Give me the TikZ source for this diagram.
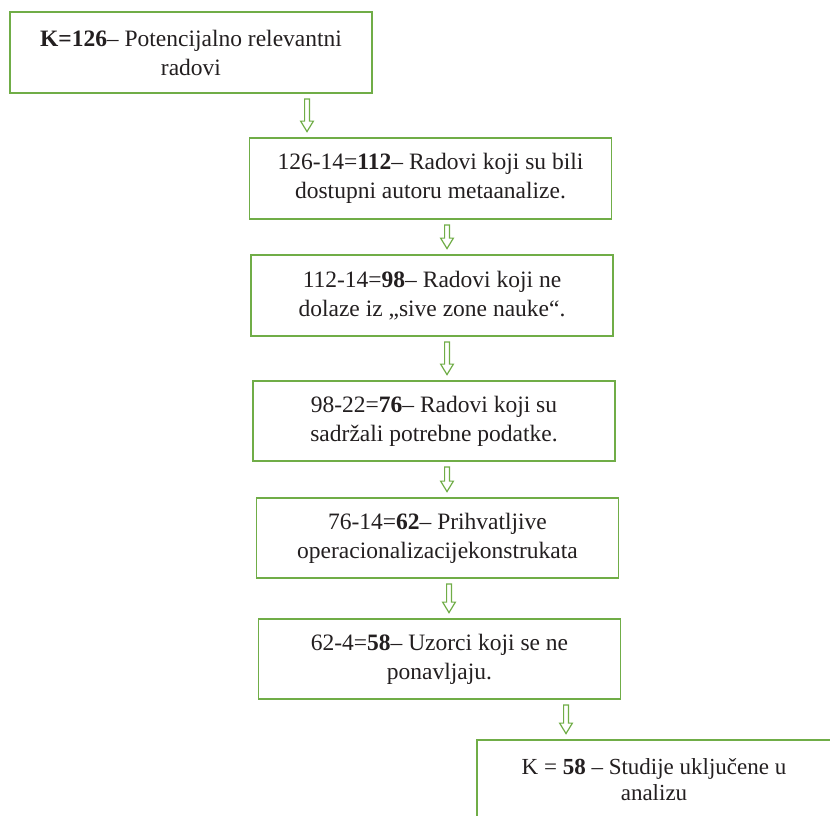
\documentclass[tikz,border=0pt]{standalone}
\usepackage{fontspec}
\setmainfont{Liberation Serif}
\usepackage{tikz}
\usetikzlibrary{calc}
\definecolor{boxgreen}{HTML}{70AD47}
\definecolor{textgray}{HTML}{231F20}

\begin{document}
\begin{tikzpicture}[
  x=1pt, y=-1pt,
  stepbox/.style={draw=boxgreen, line width=1.8pt, fill=white, minimum width=362pt,
    minimum height=81pt, align=center, inner sep=0pt, text=textgray,
    font=\fontsize{23.5}{29}\selectfont},
  finalbox/.style={stepbox, minimum width=354pt, minimum height=79pt,
    font=\fontsize{23}{26}\selectfont},
  % hollow block arrow from one box down to the next
  flow/.style={draw=boxgreen, line width=1.2pt, fill=white, line join=miter,
    to path={let \p1=(\tikztostart), \p2=(\tikztotarget) in
      ({\x1-2.4pt},{\y1-5pt}) -- ({\x1-2.4pt},{\y2+16pt}) -- ({\x1-6.4pt},{\y2+16pt})
      -- (\x1,{\y2+5.5pt}) -- ({\x1+6.4pt},{\y2+16pt}) -- ({\x1+2.4pt},{\y2+16pt})
      -- ({\x1+2.4pt},{\y1-5pt}) -- cycle}}
]
\useasboundingbox (0,0) rectangle (830,816);

\node[stepbox] (total) at (191,52.5) {\textbf{K=126}– Potencijalno relevantni\\radovi};
\node[stepbox] (available) at (430.5,178.5) {126-14=\textbf{112}– Radovi koji su bili\\dostupni autoru metaanalize.};
\node[stepbox] (nongrey) at (432,295.5) {112-14=\textbf{98}– Radovi koji ne\\dolaze iz „sive zone nauke“.};
\node[stepbox, minimum height=80pt] (withdata) at (434,421) {98-22=\textbf{76}– Radovi koji su\\sadržali potrebne podatke.};
\node[stepbox, minimum height=80pt] (accepted) at (437.5,538) {76-14=\textbf{62}– Prihvatljive\\operacionalizacijekonstrukata};
\node[stepbox, minimum height=80pt] (unique) at (439.5,659) {62-4=\textbf{58}– Uzorci koji se ne\\ponavljaju.};
\node[finalbox] (included) at (654,779.5) {K = \textbf{58} – Studije uključene u\\analizu};

\draw[flow] ([xshift=116pt]total.south) to ([xshift=116pt]total.south |- available.north);
\draw[flow] ([xshift=16.5pt]available.south) to ([xshift=16.5pt]available.south |- nongrey.north);
\draw[flow] ([xshift=15pt]nongrey.south) to ([xshift=15pt]nongrey.south |- withdata.north);
\draw[flow] ([xshift=13pt]withdata.south) to ([xshift=13pt]withdata.south |- accepted.north);
\draw[flow] ([xshift=11.5pt]accepted.south) to ([xshift=11.5pt]accepted.south |- unique.north);
\draw[flow] ([xshift=126.5pt]unique.south) to ([xshift=126.5pt]unique.south |- included.north);
\end{tikzpicture}
\end{document}
